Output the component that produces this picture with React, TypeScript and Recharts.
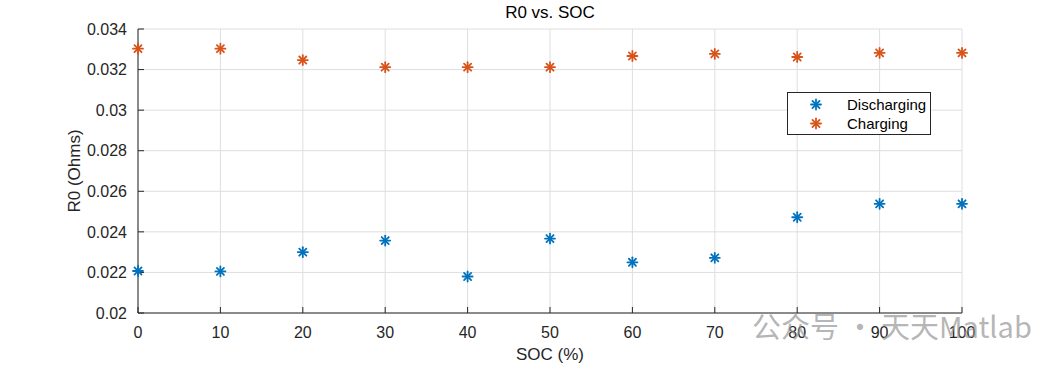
import React from 'react';
import { ScatterChart, Scatter, XAxis, YAxis, CartesianGrid } from 'recharts';

// SOC breakpoints and the fitted R0 at each one
const socPoints = [0, 10, 20, 30, 40, 50, 60, 70, 80, 90, 100];
const r0Discharging = [0.02207, 0.02205, 0.0230, 0.02357, 0.0218, 0.02367, 0.0225, 0.02272, 0.02472, 0.02538, 0.02538];
const r0Charging = [0.03303, 0.03303, 0.03247, 0.03212, 0.03212, 0.03212, 0.03267, 0.03277, 0.03262, 0.03282, 0.03282];

const xTicks = [0, 10, 20, 30, 40, 50, 60, 70, 80, 90, 100];
const yTicks = [0.02, 0.022, 0.024, 0.026, 0.028, 0.03, 0.032, 0.034];

const BLUE = '#0072BD';
const ORANGE = '#D95319';
const AXIS = '#262626';
const FONT = '"Liberation Sans", Arial, Helvetica, sans-serif';

const dischargeData = socPoints.map((soc, i) => ({ soc, r0: r0Discharging[i] }));
const chargeData = socPoints.map((soc, i) => ({ soc, r0: r0Charging[i] }));

// matlab style '*' marker
const star = (color: string, r = 5) => (props: any) => {
  const { cx, cy } = props;
  const d = r * 0.7071;
  return (
    <g stroke={color} strokeWidth={1.8} strokeLinecap="round">
      <line x1={cx - r} y1={cy} x2={cx + r} y2={cy} />
      <line x1={cx} y1={cy - r} x2={cx} y2={cy + r} />
      <line x1={cx - d} y1={cy - d} x2={cx + d} y2={cy + d} />
      <line x1={cx - d} y1={cy + d} x2={cx + d} y2={cy - d} />
    </g>
  );
};

const legendItems = [
  { name: 'Discharging', color: BLUE },
  { name: 'Charging', color: ORANGE },
];

const LegendBox = () => (
  <div
    style={{
      position: 'absolute',
      left: 787,
      top: 92,
      border: '1px solid #262626',
      background: '#fff',
      width: 144,
      height: 43,
      boxSizing: 'border-box',
      paddingTop: 2,
      fontFamily: FONT,
      fontSize: 15,
      color: '#000',
    }}
  >
    {legendItems.map((it) => (
      <div key={it.name} style={{ display: 'flex', alignItems: 'center', height: 19 }}>
        <svg width={59} height={19} style={{ flex: 'none' }}>
          {star(it.color)({ cx: 28, cy: 9.5 })}
        </svg>
        <span>{it.name}</span>
      </div>
    ))}
  </div>
);

const fmt = (v: number) => Number(v.toFixed(3)).toString();

export default function App() {
  return (
    <div style={{ position: 'absolute', left: 0, top: 0, width: 1063, height: 367, background: '#fff', fontFamily: FONT }}>
      <ScatterChart width={1063} height={367} margin={{ top: 29, right: 101, left: 0, bottom: 0 }}>
        <CartesianGrid stroke="#dedede" strokeWidth={1} />
        <XAxis
          type="number"
          dataKey="soc"
          domain={[0, 100]}
          ticks={xTicks}
          interval={0}
          height={54}
          stroke={AXIS}
          tickSize={-6}
          tickMargin={20}
          tick={{ fill: AXIS, fontSize: 16, fontFamily: FONT }}
        />
        <YAxis
          type="number"
          dataKey="r0"
          domain={[0.02, 0.034]}
          ticks={yTicks}
          interval={0}
          width={138}
          stroke={AXIS}
          tickSize={-6}
          tickMargin={17}
          tickFormatter={fmt}
          tick={{ fill: AXIS, fontSize: 16, fontFamily: FONT }}
        />
        <Scatter name="Discharging" data={dischargeData} shape={star(BLUE)} isAnimationActive={false} />
        <Scatter name="Charging" data={chargeData} shape={star(ORANGE)} isAnimationActive={false} />
      </ScatterChart>

      <LegendBox />

      <div style={{ position: 'absolute', left: 400, width: 300, top: 3, textAlign: 'center', fontSize: 17, color: '#000' }}>
        R0 vs. SOC
      </div>
      <div style={{ position: 'absolute', left: 400, width: 300, top: 345, textAlign: 'center', fontSize: 17, color: AXIS }}>
        SOC (%)
      </div>
      <div
        style={{
          position: 'absolute',
          left: 75,
          top: 171,
          fontSize: 17,
          color: AXIS,
          whiteSpace: 'nowrap',
          transform: 'translate(-50%, -50%) rotate(-90deg)',
        }}
      >
        R0 (Ohms)
      </div>
      <div
        style={{
          position: 'absolute',
          left: 752,
          top: 304,
          fontSize: 29,
          color: 'rgba(150,150,150,0.7)',
          whiteSpace: 'nowrap',
          fontFamily: '"Noto Sans CJK SC", sans-serif',
        }}
      >
        公众号 · 天天Matlab
      </div>
    </div>
  );
}
